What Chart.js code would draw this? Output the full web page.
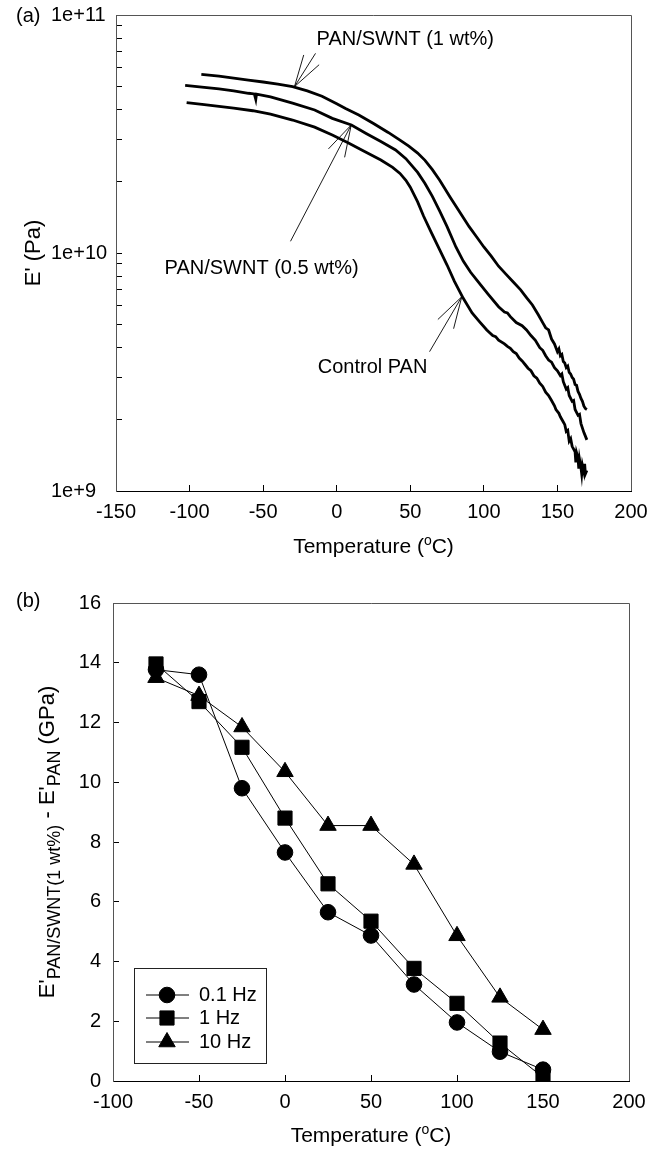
<!DOCTYPE html>
<html>
<head>
<meta charset="utf-8">
<script src="https://cdn.jsdelivr.net/npm/chart.js"></script>
<style>
  body { margin: 0; background: #fff; }
  #wrap { position: relative; width: 664px; height: 1150px; }
  canvas { position: absolute; left: 0; }
  #chartA { top: 0; }
  #chartB { top: 570px; }
</style>
</head>
<body>
<div id="wrap">
  <canvas id="chartA" width="664" height="570"></canvas>
  <canvas id="chartB" width="664" height="580"></canvas>
</div>
<script>
const FONT = '"Liberation Sans", Arial, sans-serif';
Chart.defaults.font.family = FONT;
Chart.defaults.font.size = 20;
Chart.defaults.color = '#000';

// ---- (a) E' vs temperature, moduli in GPa ----
const tempSwnt1 = [-92,-80,-70,-60,-50,-40,-30,-20,-10,0,6,15,25,35,43,49,55,60,65,70,77,85,90,95,100,105,110,115,120,125,129,133,137,140,142,144,146,148,150,151,152,153,154,155,156,157,158,159,160,161,162,163,164,165,166,167,168,169,170];
const modSwnt1 = [56.3,55.3,54.3,53.3,52.3,51.2,50.0,48.0,45.6,42.4,40.5,38.0,35.0,32.1,29.8,28.1,26.3,24.5,22.4,20.2,17.2,14.4,12.9,11.7,10.6,9.7,8.8,8.15,7.55,7.0,6.5,6.05,5.5,5.1,4.85,4.75,4.35,4.15,3.85,3.95,3.7,3.75,3.5,3.45,3.3,3.35,3.15,3.1,3.0,2.95,2.8,2.78,2.62,2.55,2.45,2.38,2.27,2.22,2.2];

const tempSwnt05 = [-103,-90,-80,-70,-60,-56,-55,-54.5,-45,-30,-15,-3,10,20,30,40,47,55,60,65,70,75,81,86,91,97,103,110,114,116,118,122,126,129,132,135,138,140,142,144,146,148,150,152,153,154,156,157,158,160,161,162,164,165,166,168,169,170];
const modSwnt05 = [50.6,49.6,48.9,48.0,46.9,46.6,44.2,46.5,45.3,42.6,39.9,36.8,34.5,31.8,29.4,27.1,24.9,21.8,19.6,17.3,15.0,12.9,10.6,9.25,8.3,7.45,6.7,5.95,5.65,5.6,5.4,5.1,4.95,4.75,4.5,4.3,4.0,3.9,3.7,3.55,3.48,3.3,3.2,3.05,3.1,2.88,2.68,2.72,2.52,2.38,2.4,2.2,2.08,2.1,1.92,1.76,1.7,1.64];

const tempControl = [-102,-90,-80,-70,-57,-45,-30,-15,-3,8,17,30,38,43,47,50,55,59,64,70,75,80,86,92,97,102,106,108,110,114,116,118,120,122,124,126,128,130,132,134,136,138,140,142,144,146,148,149,151,152,154,155,156,157,158,159,160,161,162,162.5,163,164,164.5,165,166,166.5,167,168,168.5,169,170];
const modControl = [42.8,42.0,41.3,40.6,39.6,38.3,36.2,33.8,31.3,29.0,27.1,24.6,22.9,21.6,20.2,18.9,16.4,14.3,12.3,10.3,8.9,7.6,6.45,5.6,5.15,4.75,4.5,4.45,4.3,4.15,4.05,3.98,3.85,3.78,3.62,3.52,3.4,3.28,3.2,3.05,2.98,2.84,2.75,2.6,2.52,2.4,2.28,2.2,2.12,2.05,1.95,1.9,1.78,1.8,1.62,1.66,1.54,1.5,1.46,1.32,1.45,1.38,1.24,1.36,1.25,1.18,1.28,1.2,1.3,1.18,1.22];

const yTicksA = [1e9,2e9,3e9,4e9,5e9,6e9,7e9,8e9,9e9,1e10,2e10,3e10,4e10,5e10,6e10,7e10,8e10,9e10,1e11];
const yLabelsA = {1e9: '1e+9', 1e10: '1e+10', 1e11: '1e+11'};

// callouts in data units: label anchor, arrow tip, arrow tail
const calloutsA = [
  {text: 'PAN/SWNT (1 wt%)',   at: [-13.7, 7.9e10],  tip: [-28.7, 5.0e10], tail: [-14.4, 6.9e10]},
  {text: 'PAN/SWNT (0.5 wt%)', at: [-117, 8.65e9],   tip: [9.85, 3.45e10], tail: [-31.4, 1.12e10]},
  {text: 'Control PAN',        at: [-12.9, 3.29e9],  tip: [85, 6.55e9],    tail: [63.1, 3.85e9]}
];

// ---- (b) modulus difference, GPa ----
const tempB = [-75,-50,-25,0,25,50,75,100,125,150];
const diff01Hz = [13.77,13.6,9.8,7.65,5.65,4.87,3.23,1.96,0.98,0.38];
const diff1Hz = [13.96,12.7,11.17,8.8,6.6,5.35,3.77,2.6,1.27,0.12];
const diff10Hz = [13.5,12.9,11.85,10.35,8.55,8.55,7.25,4.86,2.8,1.72];

function toPoints(xs, ys, k) {
  return xs.map((x, i) => ({x: x, y: ys[i] * k}));
}

function drawRich(ctx, parts, x, y, rot) {
  ctx.save();
  ctx.translate(x, y);
  ctx.rotate(rot || 0);
  ctx.textBaseline = 'alphabetic';
  ctx.textAlign = 'left';
  ctx.fillStyle = '#000';
  let total = 0;
  parts.forEach(p => {
    ctx.font = p.size + 'px ' + FONT;
    p.w = ctx.measureText(p.text).width;
    total += p.w;
  });
  let cx = -total / 2;
  parts.forEach(p => {
    ctx.font = p.size + 'px ' + FONT;
    ctx.fillText(p.text, cx, p.dy || 0);
    cx += p.w;
  });
  ctx.restore();
}

function drawArrow(ctx, x1, y1, x2, y2) {
  // tail (x1,y1) -> tip (x2,y2), open narrow head
  const ang = Math.atan2(y1 - y2, x1 - x2);
  const len = 33, spread = 0.28;
  ctx.beginPath();
  ctx.moveTo(x1, y1);
  ctx.lineTo(x2, y2);
  ctx.moveTo(x2 + len * Math.cos(ang + spread), y2 + len * Math.sin(ang + spread));
  ctx.lineTo(x2, y2);
  ctx.lineTo(x2 + len * Math.cos(ang - spread), y2 + len * Math.sin(ang - spread));
  ctx.stroke();
}

const framePlugin = {
  id: 'frame',
  afterDraw(chart) {
    const {ctx, chartArea: a} = chart;
    ctx.save();
    ctx.strokeStyle = '#555';
    ctx.lineWidth = 1;
    ctx.beginPath();
    ctx.moveTo(a.left, a.top + 0.5);
    ctx.lineTo(a.right + 0.5, a.top + 0.5);
    ctx.lineTo(a.right + 0.5, a.bottom);
    ctx.stroke();
    ctx.restore();
  }
};

const tempTitle = [
  {text: 'Temperature (', size: 21},
  {text: 'o', size: 14, dy: -8},
  {text: 'C)', size: 21}
];

const textPluginA = {
  id: 'textA',
  afterDraw(chart) {
    const {ctx, chartArea: a, scales} = chart;
    ctx.save();
    ctx.fillStyle = '#000';
    ctx.font = '20px ' + FONT;
    ctx.textBaseline = 'middle';
    ctx.fillText('(a)', 16, 16);
    drawRich(ctx, tempTitle, (a.left + a.right) / 2, a.bottom + 62, 0);
    drawRich(ctx, [{text: "E' (Pa)", size: 22}], 40, (a.top + a.bottom) / 2, -Math.PI / 2);
    ctx.strokeStyle = '#000';
    ctx.lineWidth = 0.9;
    calloutsA.forEach(c => {
      ctx.font = '20px ' + FONT;
      ctx.textBaseline = 'middle';
      ctx.fillText(c.text, scales.x.getPixelForValue(c.at[0]), scales.y.getPixelForValue(c.at[1]));
      drawArrow(ctx,
        scales.x.getPixelForValue(c.tail[0]), scales.y.getPixelForValue(c.tail[1]),
        scales.x.getPixelForValue(c.tip[0]), scales.y.getPixelForValue(c.tip[1]));
    });
    ctx.restore();
  }
};

const textPluginB = {
  id: 'textB',
  afterDraw(chart) {
    const {ctx, chartArea: a} = chart;
    ctx.save();
    ctx.fillStyle = '#000';
    ctx.font = '20px ' + FONT;
    ctx.textBaseline = 'middle';
    ctx.fillText('(b)', 16, 31);
    drawRich(ctx, tempTitle, (a.left + a.right) / 2, a.bottom + 61, 0);
    drawRich(ctx, [
      {text: "E'", size: 22},
      {text: 'PAN/SWNT(1 wt%)', size: 18, dy: 6},
      {text: " - E'", size: 22},
      {text: 'PAN', size: 18, dy: 6},
      {text: ' (GPa)', size: 22}
    ], 54, (a.top + a.bottom) / 2, -Math.PI / 2);

    // legend box
    const bx = 134, by = 398, bw = 132, bh = 95;
    ctx.strokeStyle = '#222';
    ctx.lineWidth = 1;
    ctx.strokeRect(bx + 0.5, by + 0.5, bw, bh);
    const rows = [425, 448, 472];
    chart.data.datasets.forEach((ds, i) => {
      const y = rows[i];
      ctx.strokeStyle = '#000';
      ctx.lineWidth = 1;
      ctx.beginPath();
      ctx.moveTo(146, y);
      ctx.lineTo(189, y);
      ctx.stroke();
      ctx.fillStyle = '#000';
      Chart.helpers.drawPoint(ctx, {pointStyle: ds.pointStyle, radius: ds.pointRadius, borderWidth: 1, rotation: 0}, 167, y);
      ctx.font = '20px ' + FONT;
      ctx.textBaseline = 'middle';
      ctx.fillText(ds.label, 199, y);
    });
    ctx.restore();
  }
};

const lineStyleA = {borderColor: '#000', borderWidth: 2.8, pointRadius: 0, tension: 0, fill: false};

new Chart(document.getElementById('chartA'), {
  type: 'line',
  data: {
    datasets: [
      Object.assign({label: 'PAN/SWNT (1 wt%)', data: toPoints(tempSwnt1, modSwnt1, 1e9)}, lineStyleA),
      Object.assign({label: 'PAN/SWNT (0.5 wt%)', data: toPoints(tempSwnt05, modSwnt05, 1e9)}, lineStyleA),
      Object.assign({label: 'Control PAN', data: toPoints(tempControl, modControl, 1e9)}, lineStyleA)
    ]
  },
  options: {
    responsive: false,
    animation: false,
    layout: {padding: {left: 51, top: 15, right: 33, bottom: 0}},
    plugins: {legend: {display: false}, tooltip: {enabled: false}},
    scales: {
      x: {
        type: 'linear', min: -150, max: 200,
        ticks: {stepSize: 50, padding: 15.7, maxRotation: 0, color: '#000'},
        grid: {drawOnChartArea: false, tickLength: -6, color: '#000'},
        border: {color: '#000', width: 1},
        afterFit(s) { s.height = 79; }
      },
      y: {
        type: 'logarithmic', min: 1e9, max: 1e11,
        afterBuildTicks(s) { s.ticks = yTicksA.map(v => ({value: v})); },
        ticks: {autoSkip: false, crossAlign: 'far', color: '#000', callback: v => yLabelsA[v] || ''},
        grid: {drawOnChartArea: false, tickLength: -6, color: '#000'},
        border: {color: '#555', width: 1},
        afterFit(s) { s.width = 65; }
      }
    }
  },
  plugins: [framePlugin, textPluginA]
});

const markerB = {borderColor: '#000', borderWidth: 1, pointBackgroundColor: '#000', pointBorderColor: '#000', pointBorderWidth: 1, tension: 0, fill: false};

new Chart(document.getElementById('chartB'), {
  type: 'line',
  data: {
    datasets: [
      Object.assign({label: '0.1 Hz', data: toPoints(tempB, diff01Hz, 1), pointStyle: 'circle', pointRadius: 7.8}, markerB),
      Object.assign({label: '1 Hz', data: toPoints(tempB, diff1Hz, 1), pointStyle: 'rect', pointRadius: 10}, markerB),
      Object.assign({label: '10 Hz', data: toPoints(tempB, diff10Hz, 1), pointStyle: 'triangle', pointRadius: 9.5}, markerB)
    ]
  },
  options: {
    responsive: false,
    animation: false,
    layout: {padding: {left: 0, top: 33, right: 35, bottom: 0}},
    plugins: {legend: {display: false}, tooltip: {enabled: false}},
    scales: {
      x: {
        type: 'linear', min: -100, max: 200,
        ticks: {stepSize: 50, padding: 15.7, maxRotation: 0, color: '#000'},
        grid: {drawOnChartArea: false, tickLength: -6, color: '#000'},
        border: {color: '#000', width: 1},
        afterFit(s) { s.height = 69; }
      },
      y: {
        type: 'linear', min: 0, max: 16,
        ticks: {stepSize: 2, padding: 18, color: '#000'},
        grid: {drawOnChartArea: false, tickLength: -6, color: '#000'},
        border: {color: '#555', width: 1},
        afterFit(s) { s.width = 113; }
      }
    }
  },
  plugins: [framePlugin, textPluginB]
});
</script>
</body>
</html>
